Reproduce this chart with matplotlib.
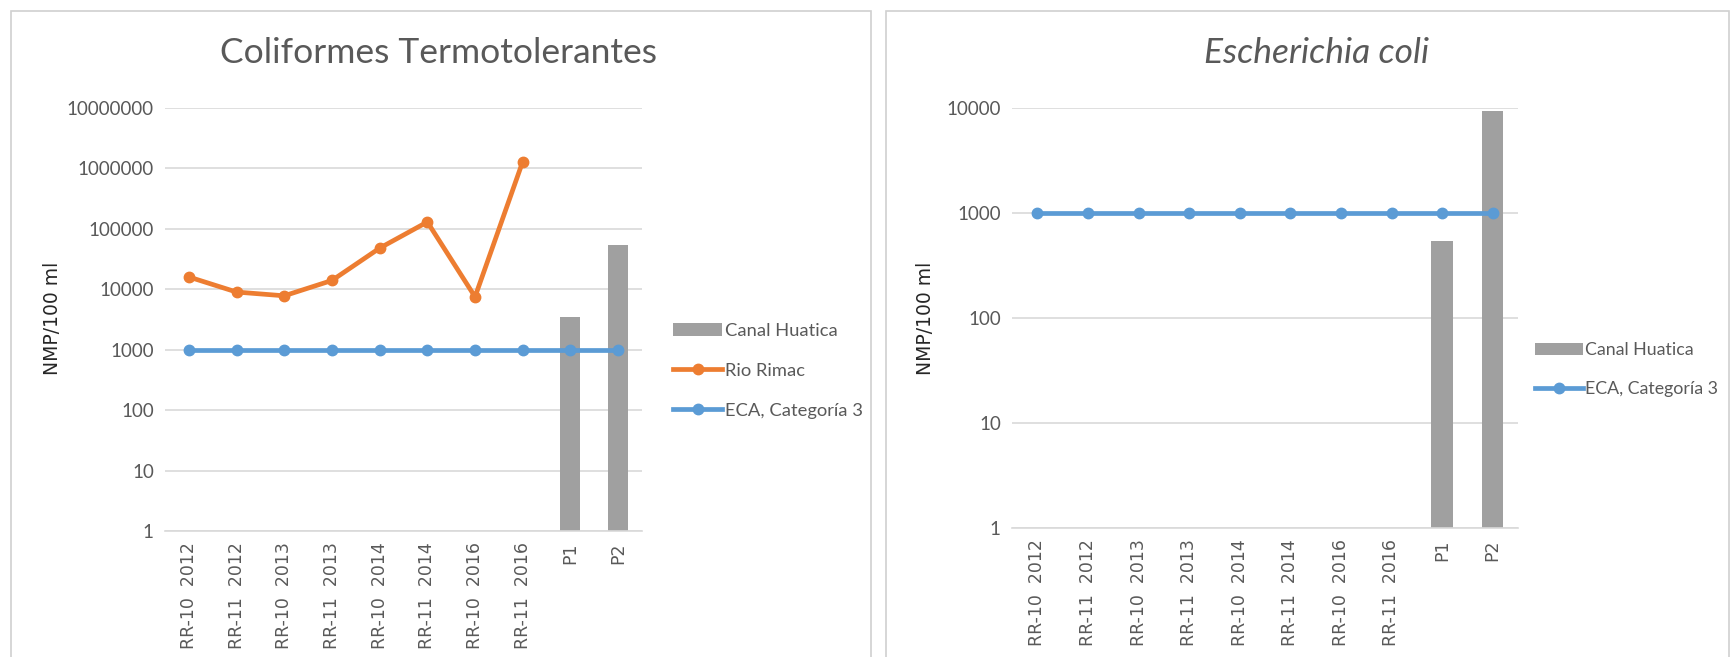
import matplotlib
matplotlib.use("Agg")
import matplotlib.pyplot as plt
from matplotlib.patches import Rectangle
import numpy as np

categories = ["RR-10  2012", "RR-11  2012", "RR-10  2013", "RR-11  2013",
              "RR-10  2014", "RR-11  2014", "RR-10  2016", "RR-11  2016", "P1", "P2"]
rio_rimac = [16000, 9000, 7800, 14000, 48000, 130000, 7500, 1300000]
canal_huatica_ct = [3500, 55000]      # P1, P2 coliformes termotolerantes
eca_ct = [1000] * 10
canal_huatica_ec = [540, 9300]        # P1, P2 E. coli
eca_ec = [1000] * 10
left_yticks = [1, 10, 100, 1000, 10000, 100000, 1000000, 10000000]
right_yticks = [1, 10, 100, 1000, 10000]

ORANGE = "#ED7D31"
BLUE = "#5B9BD5"
GRAY = "#A0A0A0"
TXT = "#595959"
FONT = ["Lato", "DejaVu Sans"]

W, H = 1731, 657
fig = plt.figure(figsize=(W / 100, H / 100), dpi=100)
fig.patch.set_facecolor("white")

# panel borders
for (x0, x1) in [(11, 871), (886, 1729)]:
    fig.patches.append(Rectangle((x0 / W, -0.05), (x1 - x0) / W, 1 - 11 / H + 0.05,
                                 transform=fig.transFigure, fill=False,
                                 edgecolor="#D0D0D0", linewidth=1.2))

def setup(ax, yticks, bars, eca, rio=None):
    x = np.arange(len(categories))
    ax.set_yscale("log")
    ax.set_ylim(yticks[0], yticks[-1])
    ax.set_xlim(-0.5, len(categories) - 0.5)
    ax.bar(x[8:], bars, width=0.42, bottom=0, color=GRAY, zorder=2,
           label="Canal Huatica")
    if rio is not None:
        ax.plot(x[:len(rio)], rio, color=ORANGE, lw=3.4, marker="o", ms=7.5,
                zorder=4, label="Rio Rimac")
    ax.plot(x, eca, color=BLUE, lw=3.4, marker="o", ms=7.5, zorder=3,
            label="ECA, Categoría 3")
    ax.set_yticks(yticks)
    ax.set_yticklabels([str(v) for v in yticks], fontsize=13.5,
                       family=FONT, color=TXT)
    ax.minorticks_off()
    ax.set_xticks(x)
    ax.set_xticklabels(categories, rotation=90, fontsize=12.5, family="DejaVu Sans",
                       color=TXT)
    ax.tick_params(axis="both", length=0, pad=8)
    ax.grid(axis="y", color="#D9D9D9", lw=1.2, zorder=0)
    ax.set_axisbelow(True)
    for s in ["top", "right", "left"]:
        ax.spines[s].set_visible(False)
    ax.spines["bottom"].set_color("#D9D9D9")
    ax.spines["bottom"].set_linewidth(1.2)

axL = fig.add_axes([165 / W, 1 - 531 / H, 477 / W, 423 / H])
setup(axL, left_yticks, canal_huatica_ct, eca_ct, rio_rimac)
axR = fig.add_axes([1012 / W, 1 - 528 / H, 506 / W, 420 / H])
setup(axR, right_yticks, canal_huatica_ec, eca_ec)

fig.text(53 / W, 1 - 318 / H, "NMP/100 ml", rotation=90, ha="center", va="center",
         fontsize=13.5, family="DejaVu Sans", color="#262626")
fig.text(926 / W, 1 - 318 / H, "NMP/100 ml", rotation=90, ha="center", va="center",
         fontsize=13.5, family="DejaVu Sans", color="#262626")

fig.text(439 / W, 1 - 53 / H, "Coliformes Termotolerantes", ha="center", va="center",
         fontsize=25.5, family=FONT, color=TXT)
fig.text(1317 / W, 1 - 53 / H, "Escherichia coli", ha="center", va="center",
         fontsize=25.5, family=FONT, style="italic", color=TXT)

def legend(ax, x, ytop, spacing, size):
    h, l = ax.get_legend_handles_labels()
    order = [l.index("Canal Huatica")] + [i for i, s in enumerate(l) if s != "Canal Huatica"]
    h = [h[i] for i in order]
    l = [l[i] for i in order]
    leg = ax.legend(h, l, loc="upper left", bbox_to_anchor=(x / W, 1 - ytop / H),
                    bbox_transform=fig.transFigure, frameon=False,
                    handlelength=2.7, handletextpad=0.12, labelspacing=spacing,
                    borderaxespad=0, borderpad=0,
                    prop={"family": FONT, "size": size})
    for t in leg.get_texts():
        t.set_color(TXT)
    return leg

legend(axL, 673, 323, 1.3, 13.2)
legend(axR, 1535, 342, 1.3, 12.8)

fig.savefig("out.png", dpi=100, facecolor="white")
